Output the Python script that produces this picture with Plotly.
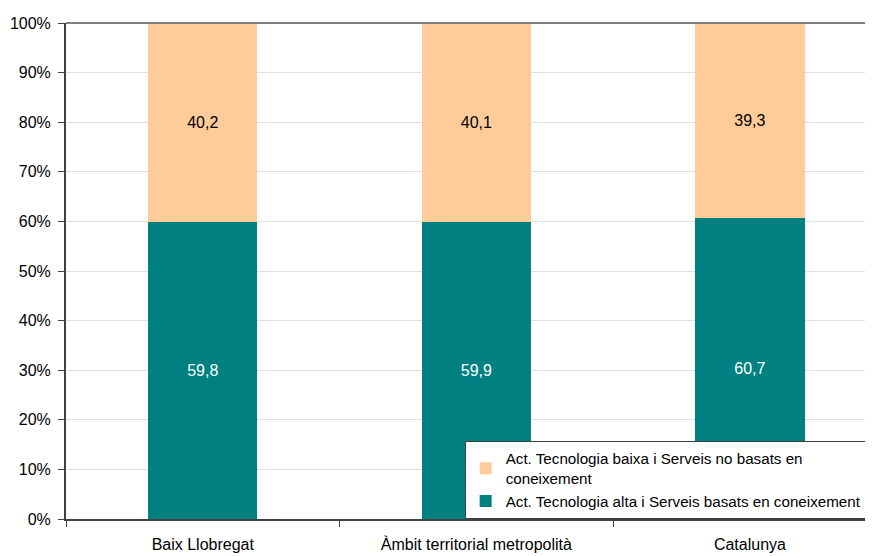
import plotly.graph_objects as go

categories = ["Baix Llobregat", "Àmbit territorial metropolità", "Catalunya"]
alta = [59.8, 59.9, 60.7]
baixa = [40.2, 40.1, 39.3]
alta_labels = ["59,8", "59,9", "60,7"]
baixa_labels = ["40,2", "40,1", "39,3"]
name_alta = "Act. Tecnologia alta i Serveis basats en coneixement"
name_baixa = "Act. Tecnologia baixa i Serveis no basats en<br>coneixement"
yticks = [0, 10, 20, 30, 40, 50, 60, 70, 80, 90, 100]

fig = go.Figure()
fig.add_trace(go.Bar(x=categories, y=alta, name=name_alta, marker_color="#008080",
                     marker_line_width=0, text=alta_labels, textposition="inside",
                     insidetextanchor="middle",
                     textfont=dict(color="white", size=16, family="Liberation Sans")))
fig.add_trace(go.Bar(x=categories, y=baixa, name=name_baixa, marker_color="#FFCC99",
                     marker_line_width=0, text=baixa_labels, textposition="inside",
                     insidetextanchor="middle",
                     textfont=dict(color="black", size=16, family="Liberation Sans")))

fig.update_layout(
    width=865, height=548,
    barmode="stack", bargap=0.6,
    margin=dict(l=58, r=0, t=15, b=37, autoexpand=False),
    paper_bgcolor="white", plot_bgcolor="white",
    font=dict(family="Liberation Sans", size=16, color="black"),
    showlegend=True,
    legend=dict(x=0.494, y=0.0, xanchor="left", yanchor="bottom",
                traceorder="reversed", bgcolor="white",
                bordercolor="#404040", borderwidth=1,
                font=dict(size=15.2, family="Liberation Sans"),
                itemsizing="constant", tracegroupgap=0, itemwidth=30),
    uniformtext=dict(mode="show", minsize=16),
)
fig.update_xaxes(range=[-0.5, 2.45], tickson="boundaries", ticks="outside",
                 ticklen=6, tickcolor="#404040", showline=True, linecolor="#404040",
                 linewidth=2, showgrid=False, tickfont=dict(size=16),
                 automargin=False, ticklabelstandoff=10)
fig.update_yaxes(range=[0, 100], tickvals=yticks, ticktext=[f"{v}%" for v in yticks],
                 ticks="outside", ticklen=6, tickcolor="#404040", showline=True,
                 linecolor="#404040", linewidth=2, showgrid=True, gridcolor="#E0E0E0",
                 gridwidth=1, tickfont=dict(size=16), zeroline=False,
                 automargin=False, ticklabelstandoff=4)
fig.add_shape(type="line", xref="paper", yref="paper", x0=0, x1=1, y0=1, y1=1,
              line=dict(color="#808080", width=2))

fig.write_html("out.html")
